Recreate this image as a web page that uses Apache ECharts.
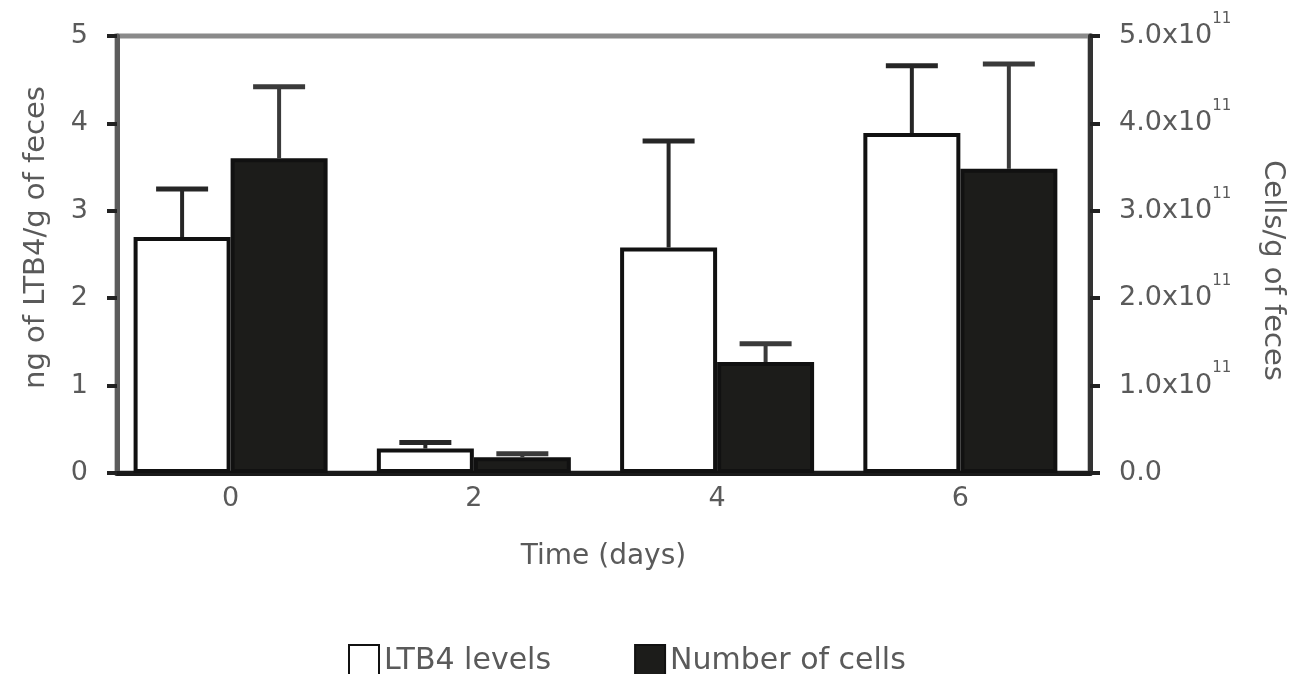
<!DOCTYPE html>
<html>
<head>
<meta charset="utf-8">
<script src="https://cdn.jsdelivr.net/npm/echarts@6/dist/echarts.min.js"></script>
<style>
  html, body { margin: 0; padding: 0; background: #ffffff; }
  #chart { width: 1295px; height: 674px; }
</style>
</head>
<body>
<div id="chart"></div>
<script>
// Time points (days)
const days = [0, 2, 4, 6];
// LTB4 in ng per g of feces, with error
const ltb4Levels = [2.7, 0.28, 2.58, 3.89];
const ltb4Error = [0.55, 0.07, 1.22, 0.77];
// Cells per g of feces, with error
const cellCounts = [3.6e11, 0.18e11, 1.27e11, 3.48e11];
const cellError = [0.82e11, 0.04e11, 0.21e11, 1.2e11];
// Axis ticks
const leftTicks = [0, 1, 2, 3, 4, 5];
const rightTicks = [0, 1e11, 2e11, 3e11, 4e11, 5e11];

const FONT = 'DejaVu Sans';
const TEXT = '#5a5a5a';
const BAR_W = 97;

const chart = echarts.init(document.getElementById('chart'), null, { renderer: 'canvas' });

function errorSeries(name, values, errors, yAxisIndex, shift, color) {
  return {
    type: 'custom',
    name: name,
    yAxisIndex: yAxisIndex,
    z: 5,
    silent: true,
    data: days.map((d, i) => [d, values[i], values[i] + errors[i]]),
    renderItem: function (params, api) {
      const base = api.coord([api.value(0), api.value(1)]);
      const top = api.coord([api.value(0), api.value(2)]);
      const x = base[0] + shift;
      const half = 26;
      return {
        type: 'group',
        children: [
          { type: 'line', shape: { x1: x, y1: base[1], x2: x, y2: top[1] },
            style: { stroke: color, lineWidth: 4 } },
          { type: 'line', shape: { x1: x - half, y1: top[1], x2: x + half, y2: top[1] },
            style: { stroke: color, lineWidth: 5 } }
        ]
      };
    }
  };
}

const option = {
  animation: false,
  backgroundColor: '#ffffff',
  textStyle: { fontFamily: FONT },
  grid: {
    left: 117, right: 202, top: 36, bottom: 201,
    show: true, borderColor: '#8a8a8a', borderWidth: 5, backgroundColor: 'transparent'
  },
  legend: {
    left: 343, top: 639,
    icon: 'rect',
    itemWidth: 30, itemHeight: 32, itemGap: 83,
    textStyle: { fontFamily: FONT, fontSize: 30, color: TEXT },
    data: ['LTB4 levels', 'Number of cells']
  },
  xAxis: {
    type: 'value',
    min: -0.934, max: 7.066,
    name: 'Time (days)',
    nameLocation: 'middle',
    nameGap: 70,
    nameTextStyle: { fontFamily: FONT, fontSize: 28, color: TEXT },
    axisLine: { show: true, onZero: false, lineStyle: { color: '#1a1a1a', width: 5 } },
    axisTick: { show: false },
    splitLine: { show: false },
    axisLabel: {
      customValues: days,
      margin: 12,
      fontFamily: FONT, fontSize: 27, color: TEXT
    }
  },
  yAxis: [
    {
      type: 'value',
      min: 0, max: 5, interval: 1,
      position: 'left',
      name: 'ng of LTB4/g of feces',
      nameLocation: 'middle',
      nameRotate: 90,
      nameGap: 66,
      nameTextStyle: { fontFamily: FONT, fontSize: 29, color: TEXT, padding: [0, 0, 0, 34] },
      axisLine: { show: true, onZero: false, lineStyle: { color: '#5c5c5c', width: 5 } },
      axisTick: { show: true, length: 10, lineStyle: { color: '#222', width: 4 }, customValues: leftTicks },
      splitLine: { show: false },
      axisLabel: { margin: 29, fontFamily: FONT, fontSize: 27, color: TEXT, customValues: leftTicks }
    },
    {
      type: 'value',
      min: 0, max: 5e11, interval: 1e11,
      position: 'right',
      name: 'Cells/g of feces',
      nameLocation: 'middle',
      nameRotate: -90,
      nameGap: 168,
      nameTextStyle: { fontFamily: FONT, fontSize: 29, color: TEXT, padding: [0, 0, 0, 32] },
      axisLine: { show: true, onZero: false, lineStyle: { color: '#333', width: 5 } },
      axisTick: { show: true, length: 10, lineStyle: { color: '#222', width: 4 }, customValues: rightTicks },
      splitLine: { show: false },
      axisLabel: {
        margin: 29,
        customValues: rightTicks,
        fontFamily: FONT, fontSize: 27, color: TEXT,
        formatter: function (v) {
          if (v === 0) return '0.0';
          return (v / 1e11).toFixed(1) + 'x10{sup|11}';
        },
        rich: {
          sup: { fontFamily: FONT, fontSize: 15, color: TEXT, padding: [0, 0, 34, 0] }
        }
      }
    }
  ],
  series: [
    {
      name: 'LTB4 levels',
      type: 'bar',
      yAxisIndex: 0,
      barWidth: BAR_W,
      barGap: '0%',
      data: days.map((d, i) => [d, ltb4Levels[i]]),
      itemStyle: { color: '#ffffff', borderColor: '#111111', borderWidth: 4 }
    },
    {
      name: 'Number of cells',
      type: 'bar',
      yAxisIndex: 1,
      barWidth: BAR_W,
      barGap: '0%',
      data: days.map((d, i) => [d, cellCounts[i]]),
      itemStyle: { color: '#1c1c1a', borderColor: '#111111', borderWidth: 4 }
    },
    errorSeries('LTB4 error', ltb4Levels, ltb4Error, 0, -BAR_W / 2, '#262626'),
    errorSeries('Cell error', cellCounts, cellError, 1, BAR_W / 2, '#3a3a3a')
  ]
};

chart.setOption(option);
</script>
</body>
</html>
